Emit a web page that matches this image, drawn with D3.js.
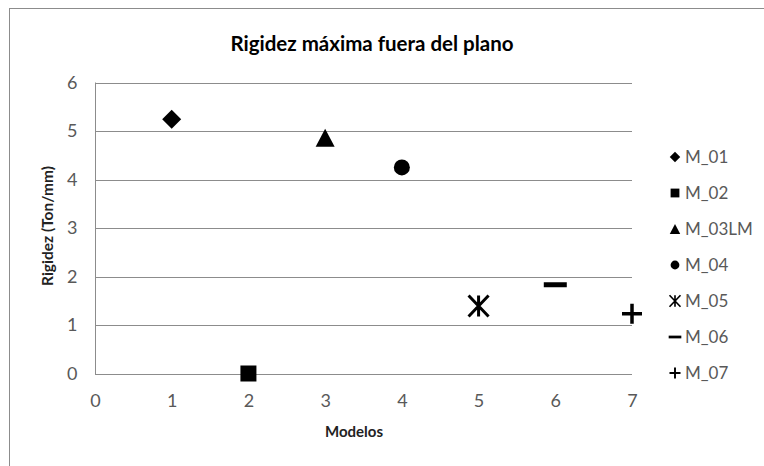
<!DOCTYPE html>
<html><head><meta charset="utf-8">
<script src="https://cdn.jsdelivr.net/npm/d3@7"></script>
<style>
html,body{margin:0;padding:0;background:#fff;}
svg{display:block;}
text{font-family:Lato,"Open Sans",sans-serif;}
</style></head>
<body>
<svg id="chart" width="764" height="466"></svg>
<script>
const categories = ["M_01","M_02","M_03LM","M_04","M_05","M_06","M_07"];
const xValues = [1,2,3,4,5,6,7];
const yValues = [5.24,0,4.86,4.25,1.39,1.83,1.23];
const shapes = ["diamond","square","triangle","circle","asterisk","dash","plus"];
const xTicks = [0,1,2,3,4,5,6,7];
const yTicks = [0,1,2,3,4,5,6];
const titleText = "Rigidez máxima fuera del plano";
const xTitle = "Modelos";
const yTitle = "Rigidez (Ton/mm)";

const svg = d3.select("#chart");
const W = 764, H = 466;
const plot = {left:95, right:632, top:82.5, bottom:373.5};

// outer border
svg.append("rect").attr("x",9.5).attr("y",8.5).attr("width",W+20).attr("height",H+20)
  .attr("fill","#fff").attr("stroke","#8c8c8c").attr("stroke-width",1);

const x = d3.scaleLinear().domain([0,7]).range([plot.left, plot.right]);
const y = d3.scaleLinear().domain([0,6]).range([plot.bottom, plot.top]);
const fmt = d3.format("d");

// gridlines
const grid = svg.append("g").attr("class","grid")
  .attr("transform",`translate(${plot.left},0)`)
  .call(d3.axisLeft(y).tickValues(yTicks).tickSize(-(plot.right-plot.left)).tickFormat(""));
grid.select(".domain").remove();
grid.selectAll("line").attr("stroke","#8c8c8c").attr("stroke-width",1);
grid.selectAll(".tick").attr("transform",d=>`translate(0,${Math.round(y(d))+0.5})`);

// y axis
const yAxis = svg.append("g").attr("transform",`translate(${plot.left+0.5},0)`)
  .call(d3.axisLeft(y).tickValues(yTicks).tickFormat(fmt).tickSize(0).tickPadding(18));
yAxis.select(".domain").attr("stroke","#8c8c8c").attr("d",`M0,${plot.top}V${plot.bottom+0.5}`);
yAxis.selectAll("text").attr("fill","#595959").style("font-size","18px").style("font-family","Lato");

// x axis
const xAxis = svg.append("g").attr("transform",`translate(0,${Math.round(y(0))+0.5})`)
  .call(d3.axisBottom(x).tickValues(xTicks).tickFormat(fmt).tickSize(0).tickPadding(20));
xAxis.select(".domain").remove();
xAxis.selectAll("text").attr("fill","#595959").style("font-size","18px").style("font-family","Lato");

// titles
svg.append("text").attr("x",372).attr("y",51).attr("text-anchor","middle")
  .style("font-size","20.5px").style("font-weight","bold").attr("fill","#000").text(titleText);
svg.append("text").attr("x",354).attr("y",437).attr("text-anchor","middle")
  .style("font-size","15px").style("font-weight","bold").attr("fill","#222").text(xTitle);
svg.append("text").attr("transform",`translate(53,226) rotate(-90)`).attr("text-anchor","middle")
  .style("font-size","15.5px").style("font-weight","bold").attr("fill","#222").text(yTitle);

function marker(g, shape, s){
  if(shape==="diamond"){
    const r=9.5*s;
    g.append("path").attr("d",`M0,${-r}L${r},0L0,${r}L${-r},0Z`).attr("fill","#000");
  } else if(shape==="square"){
    const r=8*s;
    g.append("rect").attr("x",-r).attr("y",-r).attr("width",2*r).attr("height",2*r).attr("fill","#000");
  } else if(shape==="triangle"){
    const rx=9.5*s, ry=9*s;
    g.append("path").attr("d",`M0,${-ry}L${rx},${ry}L${-rx},${ry}Z`).attr("fill","#000");
  } else if(shape==="circle"){
    g.append("circle").attr("r",8*s).attr("fill","#000");
  } else if(shape==="asterisk"){
    const rx=10*s, ry=10.5*s;
    g.append("path").attr("d",`M${-rx},${-ry}L${rx},${ry}M${rx},${-ry}L${-rx},${ry}M0,${-ry}V${ry}`)
      .attr("stroke","#000").attr("stroke-width",3*s).attr("fill","none");
  } else if(shape==="dash"){
    const rx=11.5*s, ry=2.5*s;
    g.append("rect").attr("x",-rx).attr("y",-ry).attr("width",2*rx).attr("height",2*ry).attr("fill","#000");
  } else if(shape==="plus"){
    const r=10*s;
    g.append("path").attr("d",`M${-r},0H${r}M0,${-r}V${r}`)
      .attr("stroke","#000").attr("stroke-width",3.5*s).attr("fill","none");
  }
}

// points
const pts = svg.append("g");
categories.forEach((c,i)=>{
  const g = pts.append("g").attr("transform",`translate(${x(xValues[i])},${y(yValues[i])})`);
  marker(g, shapes[i], 1);
});

// legend
const leg = svg.append("g");
categories.forEach((c,i)=>{
  const yy = 157 + i*36;
  const g = leg.append("g").attr("transform",`translate(675,${yy})`);
  marker(g, shapes[i], 0.55);
  leg.append("text").attr("x",685).attr("y",yy).attr("dy","0.36em")
    .style("font-size","17px").attr("fill","#595959").text(c);
});
</script>
</body></html>
